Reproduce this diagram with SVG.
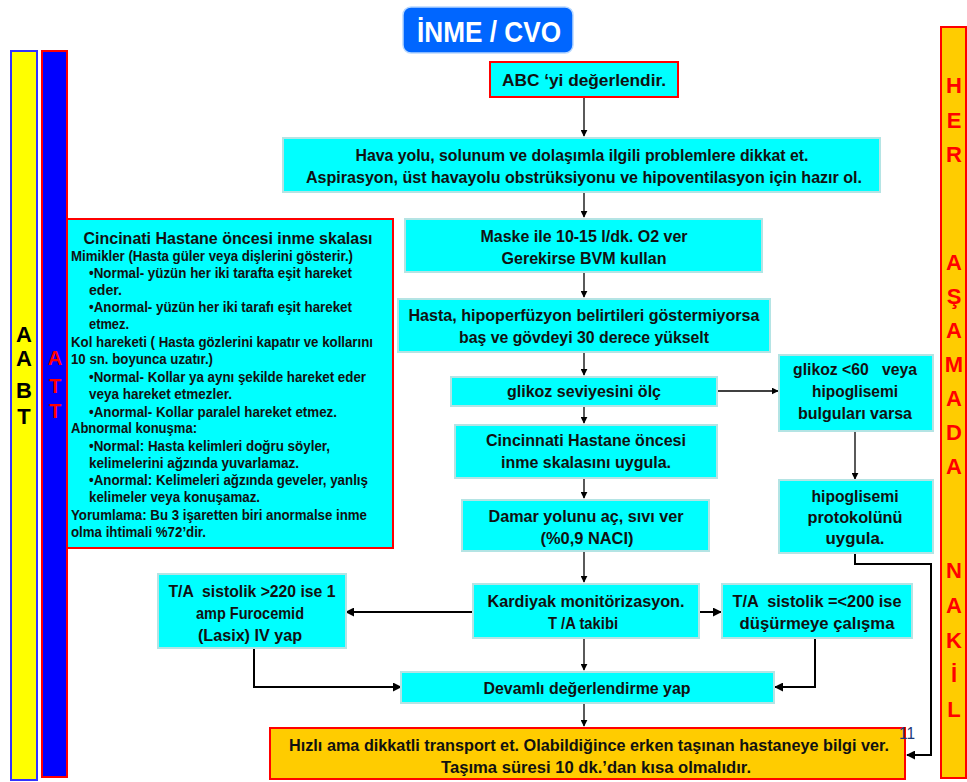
<svg xmlns="http://www.w3.org/2000/svg" width="967" height="782" viewBox="0 0 967 782">
<defs>
<marker id="ah" viewBox="0 0 10 10" refX="9" refY="5" markerWidth="7" markerHeight="7" markerUnits="userSpaceOnUse" orient="auto"><path d="M0,0 L10,5 L0,10 z" fill="#000"/></marker>
<marker id="ah2" viewBox="0 0 10 10" refX="9" refY="5" markerWidth="9" markerHeight="9" markerUnits="userSpaceOnUse" orient="auto"><path d="M0,0 L10,5 L0,10 z" fill="#000"/></marker>
</defs>
<style>
.c{fill:#00ffff;stroke:#b4e4e4;stroke-width:2}
.cr{fill:#00ffff;stroke:#ff0000;stroke-width:2}
.o{fill:#ffcc00;stroke:#ff0000;stroke-width:2}
text{white-space:pre}
.t{font-family:"Liberation Sans",Arial,sans-serif;font-weight:bold;font-size:16.5px;fill:#111;text-anchor:middle}
.l{font-family:"Liberation Sans",Arial,sans-serif;font-weight:bold;font-size:14px;fill:#111}
.v{font-family:"Liberation Sans",Arial,sans-serif;font-weight:bold;text-anchor:middle}
.k{fill:none;stroke:#000;stroke-width:1.3}
.k2{fill:none;stroke:#000;stroke-width:2}
</style>
<rect width="967" height="782" fill="#fff"/>

<g id="abt-bar">
<rect x="11" y="51" width="26" height="729" fill="#ffff00" stroke="#3333ff" stroke-width="2"/>
<text class="v" x="24" y="342" font-size="22" fill="#000">A</text>
<text class="v" x="24" y="366" font-size="22" fill="#000">A</text>
<text class="v" x="24" y="398" font-size="22" fill="#000">B</text>
<text class="v" x="24" y="424" font-size="22" fill="#000">T</text>
</g>
<g id="att-bar">
<rect x="42" y="51" width="25" height="726" fill="#0000ff" stroke="#ff0000" stroke-width="2"/>
<text class="v" x="55" y="365" font-size="20" fill="#ff0000">A</text>
<text class="v" x="55" y="393" font-size="20" fill="#ff0000">T</text>
<text class="v" x="55" y="418" font-size="20" fill="#ff0000">T</text>
</g>
<g id="nakil-bar">
<rect x="941" y="27" width="25" height="751" fill="#ffcc00" stroke="#ff0000" stroke-width="2"/>
<g font-size="22">
<text class="v" x="954" y="93" fill="#ff0000">H</text>
<text class="v" x="954" y="128" fill="#ff0000">E</text>
<text class="v" x="954" y="162" fill="#ff0000">R</text>
<text class="v" x="954" y="270" fill="#ff0000">A</text>
<text class="v" x="954" y="304" fill="#ff0000">Ş</text>
<text class="v" x="954" y="338" fill="#ff0000">A</text>
<text class="v" x="954" y="372" fill="#ff0000">M</text>
<text class="v" x="954" y="406" fill="#ff0000">A</text>
<text class="v" x="954" y="440" fill="#ff0000">D</text>
<text class="v" x="954" y="474" fill="#ff0000">A</text>
<text class="v" x="954" y="578" fill="#ff0000">N</text>
<text class="v" x="954" y="613" fill="#ff0000">A</text>
<text class="v" x="954" y="648" fill="#ff0000">K</text>
<text class="v" x="954" y="682" fill="#ff0000">İ</text>
<text class="v" x="954" y="717" fill="#ff0000">L</text>
</g>
</g>

<g id="title">
<rect x="403" y="7" width="170" height="46" rx="8" fill="#0066ff" stroke="#b8d8ff" stroke-width="1.5"/>
<text class="v" x="489" y="42" font-size="29" fill="#fff" textLength="144" lengthAdjust="spacingAndGlyphs">İNME / CVO</text>
</g>

<g id="connectors">
<line class="k" x1="584" y1="97" x2="584" y2="136" marker-end="url(#ah)"/>
<line class="k" x1="584" y1="192" x2="584" y2="217" marker-end="url(#ah)"/>
<line class="k" x1="584" y1="272" x2="584" y2="297" marker-end="url(#ah)"/>
<line class="k" x1="584" y1="352" x2="584" y2="375" marker-end="url(#ah)"/>
<line class="k" x1="717" y1="391" x2="778" y2="391" marker-end="url(#ah)"/>
<line class="k" x1="855" y1="431" x2="855" y2="479" marker-end="url(#ah)"/>
<line class="k" x1="584" y1="406" x2="584" y2="423" marker-end="url(#ah)"/>
<line class="k" x1="584" y1="478" x2="584" y2="498" marker-end="url(#ah)"/>
<line class="k" x1="584" y1="551" x2="584" y2="582" marker-end="url(#ah)"/>
<line class="k2" x1="473" y1="612" x2="346" y2="612" marker-end="url(#ah2)"/>
<line class="k2" x1="699" y1="612" x2="721" y2="612" marker-end="url(#ah2)"/>
<line class="k" x1="584" y1="638" x2="584" y2="670" marker-end="url(#ah)"/>
<polyline class="k2" points="254,648 254,687 401,687" marker-end="url(#ah2)"/>
<polyline class="k2" points="815,638 815,687 775,687" marker-end="url(#ah2)"/>
<line class="k" x1="584" y1="703" x2="584" y2="726" marker-end="url(#ah)"/>
<polyline class="k2" points="855,553 855,564 931,564 931,755 907,755" marker-end="url(#ah2)"/>
</g>

<g id="n-abc">
<rect class="cr" x="490" y="62" width="188" height="35"/>
<text class="t" x="584" y="86" textLength="164" lengthAdjust="spacingAndGlyphs">ABC ‘yi değerlendir.</text>
</g>
<g id="n-hava">
<rect class="c" x="283" y="138" width="597" height="54"/>
<text class="t" x="582" y="161" textLength="453" lengthAdjust="spacingAndGlyphs">Hava yolu, solunum ve dolaşımla ilgili problemlere dikkat et.</text>
<text class="t" x="584" y="183" textLength="556" lengthAdjust="spacingAndGlyphs">Aspirasyon, üst havayolu obstrüksiyonu ve hipoventilasyon için hazır ol.</text>
</g>
<g id="n-maske">
<rect class="c" x="405" y="219" width="357" height="53"/>
<text class="t" x="584" y="242" textLength="207" lengthAdjust="spacingAndGlyphs">Maske ile 10-15 l/dk. O2 ver</text>
<text class="t" x="584" y="264" textLength="165" lengthAdjust="spacingAndGlyphs">Gerekirse BVM kullan</text>
</g>
<g id="n-hasta">
<rect class="c" x="398" y="299" width="372" height="53"/>
<text class="t" x="584" y="321" textLength="351" lengthAdjust="spacingAndGlyphs">Hasta, hipoperfüzyon belirtileri göstermiyorsa</text>
<text class="t" x="584" y="343" textLength="250" lengthAdjust="spacingAndGlyphs">baş ve gövdeyi 30 derece yükselt</text>
</g>
<g id="n-glikoz">
<rect class="c" x="451" y="377" width="266" height="29"/>
<text class="t" x="584" y="397" textLength="154" lengthAdjust="spacingAndGlyphs">glikoz seviyesini ölç</text>
</g>
<g id="n-glikoz60">
<rect class="c" x="779" y="355" width="154" height="76"/>
<text class="t" x="855" y="375" textLength="124" lengthAdjust="spacingAndGlyphs">glikoz &lt;60   veya</text>
<text class="t" x="855" y="397" textLength="86" lengthAdjust="spacingAndGlyphs">hipoglisemi</text>
<text class="t" x="855" y="419" textLength="114" lengthAdjust="spacingAndGlyphs">bulguları varsa</text>
</g>
<g id="n-cincinnati">
<rect class="c" x="455" y="425" width="262" height="53"/>
<text class="t" x="586" y="446" textLength="200" lengthAdjust="spacingAndGlyphs">Cincinnati Hastane öncesi</text>
<text class="t" x="586" y="468" textLength="170" lengthAdjust="spacingAndGlyphs">inme skalasını uygula.</text>
</g>
<g id="n-damar">
<rect class="c" x="462" y="500" width="247" height="51"/>
<text class="t" x="586" y="522" textLength="195" lengthAdjust="spacingAndGlyphs">Damar yolunu aç, sıvı ver</text>
<text class="t" x="587" y="544" textLength="93" lengthAdjust="spacingAndGlyphs">(%0,9 NACI)</text>
</g>
<g id="n-hipoprot">
<rect class="c" x="779" y="480" width="154" height="73"/>
<text class="t" x="855" y="502" textLength="87" lengthAdjust="spacingAndGlyphs">hipoglisemi</text>
<text class="t" x="855" y="523" textLength="95" lengthAdjust="spacingAndGlyphs">protokolünü</text>
<text class="t" x="855" y="544" textLength="59" lengthAdjust="spacingAndGlyphs">uygula.</text>
</g>
<g id="n-kardiyak">
<rect class="c" x="473" y="584" width="226" height="54"/>
<text class="t" x="586" y="607" textLength="197" lengthAdjust="spacingAndGlyphs">Kardiyak monitörizasyon.</text>
<text class="t" x="583" y="629" textLength="70" lengthAdjust="spacingAndGlyphs">T /A takibi</text>
</g>
<g id="n-ta220">
<rect class="c" x="158" y="574" width="188" height="74"/>
<text class="t" x="252" y="597" textLength="167" lengthAdjust="spacingAndGlyphs">T/A  sistolik &gt;220 ise 1</text>
<text class="t" x="250" y="619" textLength="108" lengthAdjust="spacingAndGlyphs">amp Furocemid</text>
<text class="t" x="250" y="641" textLength="104" lengthAdjust="spacingAndGlyphs">(Lasix) IV yap</text>
</g>
<g id="n-ta200">
<rect class="c" x="722" y="584" width="190" height="54"/>
<text class="t" x="817" y="607" textLength="169" lengthAdjust="spacingAndGlyphs">T/A  sistolik =&lt;200 ise</text>
<text class="t" x="817" y="629" textLength="155" lengthAdjust="spacingAndGlyphs">düşürmeye çalışma</text>
</g>
<g id="n-devamli">
<rect class="c" x="401" y="672" width="373" height="31"/>
<text class="t" x="587" y="694" textLength="207" lengthAdjust="spacingAndGlyphs">Devamlı değerlendirme yap</text>
</g>
<g id="n-transport">
<rect class="o" x="270" y="728" width="635" height="51"/>
<text class="t" x="589" y="751" textLength="600" lengthAdjust="spacingAndGlyphs">Hızlı ama dikkatli transport et. Olabildiğince erken taşınan hastaneye bilgi ver.</text>
<text class="t" x="596" y="773" textLength="310" lengthAdjust="spacingAndGlyphs">Taşıma süresi 10 dk.’dan kısa olmalıdır.</text>
</g>
<g id="pagenum">
<text x="899" y="739" font-family="'Liberation Sans',Arial,sans-serif" font-size="17" fill="#1f3a7a" textLength="16" lengthAdjust="spacingAndGlyphs">11</text>
</g>

<g id="n-scale">
<rect class="cr" x="67" y="219" width="326" height="329"/>
<text class="t" x="228" y="244" font-size="16.5" textLength="289" lengthAdjust="spacingAndGlyphs">Cincinati Hastane öncesi inme skalası</text>
<text class="l" x="71" y="261" textLength="282" lengthAdjust="spacingAndGlyphs">Mimikler (Hasta güler veya dişlerini gösterir.)</text>
<text class="l" x="89" y="278" textLength="263" lengthAdjust="spacingAndGlyphs">•Normal- yüzün her iki tarafta eşit hareket</text>
<text class="l" x="89" y="295" textLength="33" lengthAdjust="spacingAndGlyphs">eder.</text>
<text class="l" x="89" y="312" textLength="263" lengthAdjust="spacingAndGlyphs">•Anormal- yüzün her iki tarafı eşit hareket</text>
<text class="l" x="89" y="329" textLength="40" lengthAdjust="spacingAndGlyphs">etmez.</text>
<text class="l" x="71" y="347" textLength="302" lengthAdjust="spacingAndGlyphs">Kol hareketi ( Hasta gözlerini kapatır ve kollarını</text>
<text class="l" x="71" y="364" textLength="142" lengthAdjust="spacingAndGlyphs">10 sn. boyunca uzatır.)</text>
<text class="l" x="89" y="382" textLength="277" lengthAdjust="spacingAndGlyphs">•Normal- Kollar ya aynı şekilde hareket eder</text>
<text class="l" x="89" y="399" textLength="143" lengthAdjust="spacingAndGlyphs">veya hareket etmezler.</text>
<text class="l" x="89" y="417" textLength="248" lengthAdjust="spacingAndGlyphs">•Anormal- Kollar paralel hareket etmez.</text>
<text class="l" x="71" y="433" textLength="126" lengthAdjust="spacingAndGlyphs">Abnormal konuşma:</text>
<text class="l" x="89" y="451" textLength="241" lengthAdjust="spacingAndGlyphs">•Normal: Hasta kelimleri doğru söyler,</text>
<text class="l" x="89" y="468" textLength="210" lengthAdjust="spacingAndGlyphs">kelimelerini ağzında yuvarlamaz.</text>
<text class="l" x="89" y="485" textLength="279" lengthAdjust="spacingAndGlyphs">•Anormal: Kelimeleri ağzında geveler, yanlış</text>
<text class="l" x="89" y="502" textLength="171" lengthAdjust="spacingAndGlyphs">kelimeler veya konuşamaz.</text>
<text class="l" x="71" y="520" textLength="296" lengthAdjust="spacingAndGlyphs">Yorumlama: Bu 3 işaretten biri anormalse inme</text>
<text class="l" x="71" y="537" textLength="135" lengthAdjust="spacingAndGlyphs">olma ihtimali %72’dir.</text>
</g>
</svg>
